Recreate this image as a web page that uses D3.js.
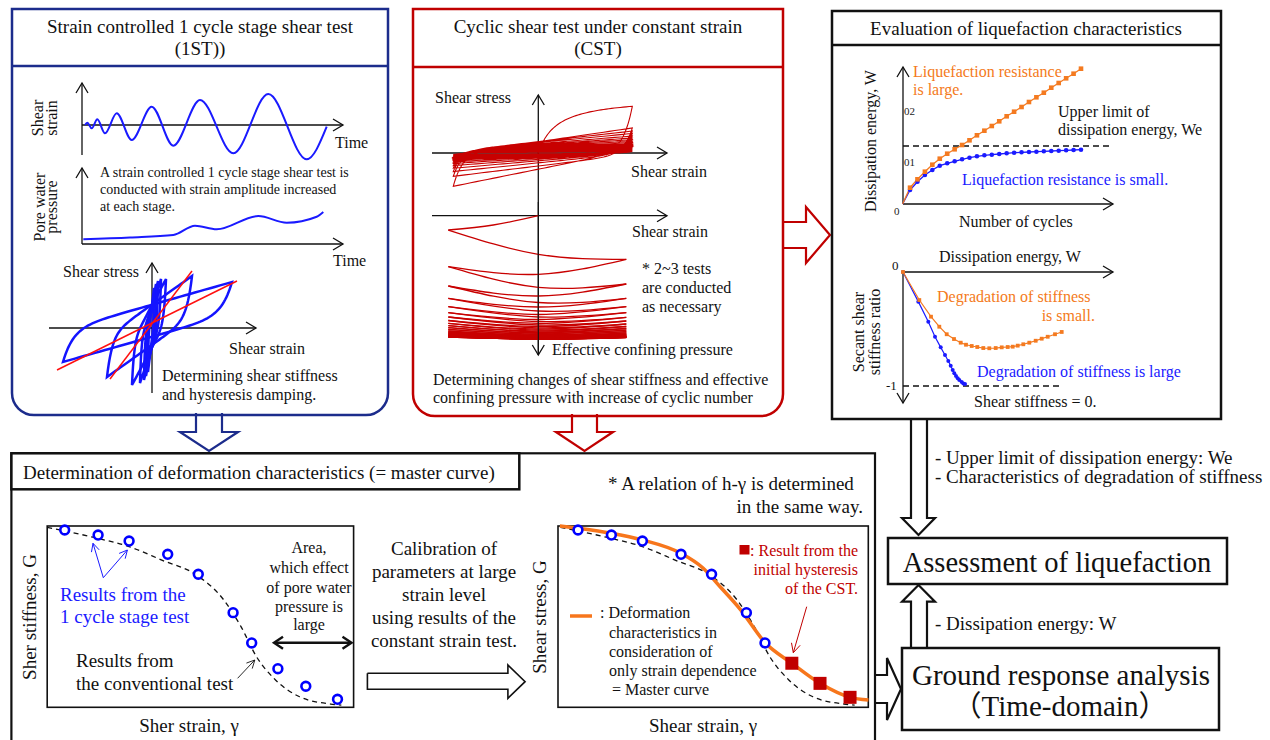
<!DOCTYPE html>
<html><head><meta charset="utf-8">
<script src="https://cdn.jsdelivr.net/npm/d3@7"></script>
<style>
body{margin:0;background:#fff}
svg{display:block}
text{font-family:"Liberation Serif","Times New Roman",Times,"Noto Sans CJK JP",serif}
</style></head>
<body><svg id="c" width="1270" height="740"></svg>
<script>
// ================= DATA =================
// 1ST: shear strain time history (extrema, arbitrary units)
const waveTime   = [3, 5.3, 9.7, 15.3, 23, 34.7, 49.7, 69.7, 91.3, 118, 151.3, 186.3, 224.7, 244.7];
const waveStrain = [0, 2.3, -3.3, 5.7, -8.3, 11.7, -15, 18.3, -20.7, 25, -28.3, 31, -34.3, -1.7];
// 1ST: pore water pressure time history
const poreTime = [1.3, 48, 91.3, 113, 134.7, 176.3, 204.7, 234.7, 241.3];
const porePWP  = [4.7, 6.5, 9, 18.3, 14.7, 28, 21.3, 27.3, 32];
// 1ST: hysteresis loops (reversal points)
const hystStrainMin = [-89, -45, -20, -12, -8, -6, -4];
const hystStrainMax = [80, 40, 14, 9, 6, 4, 2];
const hystStressMin = [-34, -49, -57, -55, -52, -48, -44];
const hystStressMax = [46, 52, 49, 49, 47, 44, 40];
// 1ST: secant stiffness lines [strain1, stress1, strain2, stress2]
const secantLines = [[-95, -42, 85, 47], [-42, -51, 40, 57]];
// CST: constant strain amplitude, peak stresses per cycle
const cstStrainMin = -85, cstStrainMax = 94;
const cstTop    = [46.7, 25, 22, 19.5, 17, 15, 13.3, 11.7, 10.3, 9, 7.8, 6.8, 5.9, 5.1, 4.4, 3.8, 3.3, 2.9, 2.5, 2.2, 2.0, 1.8, 1.6, 1.5];
const cstBottom = [33.3, 23.3, 18.5, 15.2, 12.6, 10.5, 8.8, 7.4, 6.3, 5.4, 4.7, 4.1, 3.6, 3.2, 2.9, 2.6, 2.4, 2.2, 2.0, 1.9, 1.8, 1.7, 1.6, 1.5];
// CST: effective confining pressure path (drop from initial), reversal and mid-cycle values
const pathStrainMin = -90, pathStrainMax = 88;
const pFirstMid = 9.3;
const pLeft  = [14.3, 51.0, 70.3, 82.6, 91.0, 97.0, 101.3, 104.8, 107.6, 110.0, 112.0, 113.7, 115.1, 116.3, 117.3, 118.1, 118.8, 119.4, 119.9, 120.3, 120.6, 120.9, 121.1, 121.3, 121.5];
const pRight = [43.6, 68.3, 82.6, 91.0, 97.0, 101.6, 105.3, 108.3, 110.8, 112.8, 114.5, 115.9, 117.1, 118.1, 118.9, 119.6, 120.2, 120.6, 120.9, 121.2, 121.4, 121.6, 121.7, 121.8];
const pMidLR = [38.6, 71.6, 86.8, 95.3, 101.3, 105.8, 109.3, 112.1, 114.3, 116.1, 117.6, 118.8, 119.8, 120.6, 121.3, 121.8, 122.2, 122.5, 122.7, 122.9, 123.0, 123.1, 123.2, 123.3];
const pMidRL = [58.6, 80.3, 91.3, 98.8, 103.8, 107.6, 110.8, 113.3, 115.3, 117.0, 118.3, 119.4, 120.3, 121.1, 121.7, 122.2, 122.5, 122.7, 122.9, 123.0, 123.1, 123.2, 123.3, 123.4];
// Evaluation: dissipation energy vs number of cycles
const cycles   = [1,2,3,4,5,6,7,8,9,10,11,12,13,14,15,16,17,18,19,20,21,22,23,24];
const energyLarge = [0.163,0.247,0.323,0.393,0.453,0.503,0.547,0.59,0.637,0.687,0.733,0.78,0.827,0.877,0.923,0.97,1.02,1.067,1.113,1.163,1.21,1.257,1.303,1.353];
const energySmall = [0.14,0.223,0.29,0.34,0.383,0.407,0.427,0.447,0.463,0.477,0.487,0.493,0.5,0.507,0.513,0.517,0.52,0.523,0.527,0.53,0.533,0.537,0.54,0.543];
const energyLimit = 0.58;
const energyTickLabels = ["01", "02"];
const energyTickValues = [0.42, 0.93];
// Evaluation: secant shear stiffness ratio vs dissipation energy
const degSmallE = [0,0.163,0.28,0.363,0.437,0.51,0.577,0.63,0.687,0.743,0.803,0.863,0.927,0.987,1.047,1.097,1.147,1.203,1.263,1.327,1.387,1.447,1.52,1.587];
const degSmallR = [0,-0.246,-0.392,-0.48,-0.546,-0.588,-0.62,-0.638,-0.649,-0.658,-0.667,-0.669,-0.667,-0.661,-0.658,-0.655,-0.646,-0.634,-0.62,-0.603,-0.585,-0.568,-0.546,-0.526];
const degLargeE = [0,0.153,0.253,0.32,0.377,0.42,0.453,0.477,0.497,0.513,0.53,0.547,0.563,0.587,0.603,0.62];
const degLargeR = [0,-0.26,-0.436,-0.568,-0.661,-0.728,-0.781,-0.822,-0.86,-0.889,-0.912,-0.932,-0.947,-0.965,-0.977,-0.982];
// Master curve: log-strain index u, normalized stiffness G
const oneStageU = [0.571,1.661,2.673,3.933,4.931,6.067,6.674,7.529,8.44,9.475];
const oneStageG = [0.978,0.95,0.917,0.844,0.734,0.522,0.355,0.213,0.116,0.044];
const convU = [0,1.495,2.673,3.74,4.866,5.764,6.325,6.831,7.451,8.238,9.249,9.6];
const convG = [0.993,0.938,0.886,0.812,0.73,0.592,0.445,0.279,0.151,0.058,0.018,0.012];
const masterU = [-0.02,0.58,1.64,2.67,3.93,4.65,5.21,5.86,6.68,7.55,8.47,9.45,10.05];
const masterG = [1.0,0.987,0.96,0.923,0.849,0.768,0.665,0.542,0.356,0.243,0.132,0.055,0.04];
const cstU = [7.55, 8.47, 9.45];
const cstG = [0.243, 0.132, 0.055];

// ================= STYLE =================
const ORANGE = '#f47a20', BLUE = '#1a1aff', NAVY = '#1c2c8c', RED = '#c00000', INK = '#111';
const svg = d3.select('#c');
const zip = (a, b) => a.map((v, i) => [v, b[i]]);

function T(x, y, s, o = {}) {
  const t = svg.append('text').attr('x', x).attr('y', y).text(s)
    .attr('font-size', o.size || 16).attr('fill', o.fill || INK)
    .attr('text-anchor', o.anchor || 'start');
  if (o.rot) t.attr('transform', `rotate(-90,${x},${y})`);
  if (o.family) t.attr('font-family', o.family);
  return t;
}
function L(x1, y1, x2, y2, o = {}) {
  return svg.append('line').attr('x1', x1).attr('y1', y1).attr('x2', x2).attr('y2', y2)
    .attr('stroke', o.color || INK).attr('stroke-width', o.w || 1.3)
    .attr('stroke-dasharray', o.dash || null);
}
function head(x, y, ang, o = {}) {
  const len = o.len || 10, half = o.half || 6;
  const c = Math.cos(ang), s = Math.sin(ang);
  const bx = x - len * c, by = y - len * s;
  svg.append('path').attr('d', `M${bx - half * s},${by + half * c}L${x},${y}L${bx + half * s},${by - half * c}`)
    .attr('fill', 'none').attr('stroke', o.color || INK).attr('stroke-width', o.w || 1.3);
}
function arrow(x1, y1, x2, y2, o = {}) {
  L(x1, y1, x2, y2, o);
  head(x2, y2, Math.atan2(y2 - y1, x2 - x1), o);
}
function poly(pts, o = {}) {
  svg.append('path').attr('d', d3.line()(pts)).attr('fill', o.fill || '#fff')
    .attr('stroke', o.color || INK).attr('stroke-width', o.w || 2.2).attr('stroke-linejoin', 'miter');
}
const expLin = (a, b) => u => a * u + (1 - a) * (1 - Math.exp(-u / b)) / (1 - Math.exp(-1 / b));
const hyper = k => u => u * (1 + k) / (u + k);
function branch(p0, p1, f, n = 60) {
  return d3.range(n + 1).map(i => { const u = Math.pow(i / n, 2);
    return [p0[0] + (p1[0] - p0[0]) * u, p0[1] + (p1[1] - p0[1]) * f(u)]; });
}

// ================= BLOCK ARROWS (under panels) =================
poly([[196, 413], [196, 432], [180, 432], [209, 451], [238, 432], [222, 432], [222, 413]], {color: NAVY});
poly([[572, 414], [572, 432], [556, 432], [584.5, 451], [613, 432], [597, 432], [597, 414]], {color: RED});
poly([[783, 222], [806, 222], [806, 207], [830, 235], [806, 263], [806, 248], [783, 248]], {color: RED});
poly([[911, 419], [911, 518], [902, 518], [918.5, 535], [935, 518], [927, 518], [927, 419]]);
poly([[911, 648], [911, 601.7], [902, 601.7], [918.5, 585], [935, 601.7], [927, 601.7], [927, 648]]);
poly([[875, 675], [887, 675], [887, 658], [901, 689], [887, 720], [887, 703], [875, 703]]);
poly([[367.4, 673.3], [507.9, 673.3], [507.9, 665], [525.1, 681.7], [507.9, 698.3], [507.9, 689.3], [367.4, 689.3], [367.4, 673.3]], {w: 1.6});

// ================= PANELS =================
svg.append('path').attr('d', 'M12,9H388V393A22,22 0 0 1 366,415H34A22,22 0 0 1 12,393Z')
  .attr('fill', 'none').attr('stroke', NAVY).attr('stroke-width', 2.5);
L(12, 66, 388, 66, {color: NAVY, w: 2.5});
svg.append('path').attr('d', 'M413,9H783V394A22,22 0 0 1 761,416H435A22,22 0 0 1 413,394Z')
  .attr('fill', 'none').attr('stroke', RED).attr('stroke-width', 2.5);
L(413, 67, 783, 67, {color: RED, w: 2.5});
svg.append('rect').attr('x', 832).attr('y', 11).attr('width', 389).attr('height', 408)
  .attr('fill', 'none').attr('stroke', INK).attr('stroke-width', 2.5);
L(832, 45, 1221, 45, {w: 2.5});
svg.append('rect').attr('x', 11.4).attr('y', 453.3).attr('width', 863.6).attr('height', 320)
  .attr('fill', 'none').attr('stroke', INK).attr('stroke-width', 2.2);
svg.append('rect').attr('x', 11.4).attr('y', 453.3).attr('width', 507.9).attr('height', 36)
  .attr('fill', '#fff').attr('stroke', INK).attr('stroke-width', 2.5);
svg.append('rect').attr('x', 888).attr('y', 538).attr('width', 339).attr('height', 46)
  .attr('fill', '#fff').attr('stroke', INK).attr('stroke-width', 2.5);
svg.append('rect').attr('x', 902).attr('y', 648).attr('width', 317).attr('height', 82)
  .attr('fill', '#fff').attr('stroke', INK).attr('stroke-width', 2.5);

// ================= TITLES =================
T(200, 33, 'Strain controlled 1 cycle stage shear test', {size: 19, anchor: 'middle'});
T(200, 55, '(1ST))', {size: 19, anchor: 'middle'});
T(598, 33, 'Cyclic shear test under constant strain', {size: 19, anchor: 'middle'});
T(598, 55, '(CST)', {size: 19, anchor: 'middle'});
T(1026, 35, 'Evaluation of liquefaction characteristics', {size: 19, anchor: 'middle'});
T(23, 479, 'Determination of deformation characteristics (= master curve)', {size: 19});

// ================= 1ST: strain & pore pressure =================
const xT = d3.scaleLinear().domain([0, 262]).range([82, 344]);
const yS = d3.scaleLinear().domain([-40, 40]).range([165, 85]);
const yPW = d3.scaleLinear().domain([0, 76]).range([244, 168]);
L(82, 155, 82, 83); head(82, 83, -Math.PI / 2);
arrow(82, 125, 343, 125);
svg.append('path').attr('d', d3.line().x(d => xT(d[0])).y(d => yS(d[1])).curve(d3.curveMonotoneX)(zip(waveTime, waveStrain)))
  .attr('fill', 'none').attr('stroke', BLUE).attr('stroke-width', 2);
T(43, 118, 'Shear', {rot: true, anchor: 'middle'});
T(57, 118, 'strain', {rot: true, anchor: 'middle'});
T(335, 148, 'Time');

L(82, 244, 82, 168); head(82, 168, -Math.PI / 2);
arrow(82, 244, 343, 244);
svg.append('path').attr('d', d3.line().x(d => xT(d[0])).y(d => yPW(d[1])).curve(d3.curveMonotoneX)(zip(poreTime, porePWP)))
  .attr('fill', 'none').attr('stroke', BLUE).attr('stroke-width', 2);
T(45, 207, 'Pore water', {rot: true, anchor: 'middle'});
T(57, 207, 'pressure', {rot: true, anchor: 'middle'});
T(100, 177, 'A strain controlled 1 cycle stage shear test is', {size: 14});
T(100, 194, 'conducted with strain amplitude increased', {size: 14});
T(100, 211, 'at each stage.', {size: 14});
T(333, 266, 'Time');

// ================= 1ST: hysteresis =================
const xH = d3.scaleLinear().domain([-100, 100]).range([52, 252]);
const yH = d3.scaleLinear().domain([-60, 60]).range([388, 268]);
L(152, 393, 152, 263); head(152, 263, -Math.PI / 2);
arrow(49, 328, 256, 328);
const hLine = d3.line().x(d => xH(d[0])).y(d => yH(d[1]));
const fH = expLin(0.6, 0.06);
hystStrainMin.forEach((mn, i) => {
  const a = [mn, hystStressMin[i]], b = [hystStrainMax[i], hystStressMax[i]];
  const pts = branch(a, b, fH).concat(branch(b, a, fH));
  svg.append('path').attr('d', hLine(pts) + 'Z').attr('fill', 'none').attr('stroke', '#1414ff').attr('stroke-width', 2.5);
});
secantLines.forEach(s => L(xH(s[0]), yH(s[1]), xH(s[2]), yH(s[3]), {color: '#ff1010', w: 1.5}));
T(63, 277, 'Shear stress');
T(229, 354, 'Shear strain');
T(162, 381, 'Determining shear stiffness');
T(162, 400, 'and hysteresis damping.');

// ================= CST =================
const xC = d3.scaleLinear().domain([-100, 100]).range([438.3, 638.3]);
const yC = d3.scaleLinear().domain([-50, 50]).range([203, 103]);
const yPp = d3.scaleLinear().domain([0, 140]).range([215.7, 355.7]);
L(538.3, 202, 538.3, 95); head(538.3, 95, -Math.PI / 2);
arrow(432, 153, 667, 153);
const fC = expLin(0.45, 0.05);
let cpts = branch([0, 0], [cstStrainMax, cstTop[0]], hyper(0.2));
cstTop.forEach((t, i) => {
  cpts = cpts.concat(branch([cstStrainMax, t], [cstStrainMin, -cstBottom[i]], fC));
  if (i + 1 < cstTop.length) cpts = cpts.concat(branch([cstStrainMin, -cstBottom[i]], [cstStrainMax, cstTop[i + 1]], fC));
});
svg.append('path').attr('d', d3.line().x(d => xC(d[0])).y(d => yC(d[1]))(cpts))
  .attr('fill', 'none').attr('stroke', '#c80000').attr('stroke-width', 1.1);
T(435, 103, 'Shear stress');
T(631, 177, 'Shear strain');

L(538.3, 202, 538.3, 355); head(538.3, 355, Math.PI / 2);
arrow(432, 215.7, 667, 215.7);
const pLine = d3.line().x(d => xC(d[0])).y(d => yPp(d[1])).curve(d3.curveNatural);
const segs = [[[0, 0], [pathStrainMin / 2, pFirstMid], [pathStrainMin, pLeft[0]]]];
pRight.forEach((r, i) => {
  segs.push([[pathStrainMin, pLeft[i]], [0, pMidLR[i]], [pathStrainMax, r]]);
  if (i + 1 < pLeft.length) segs.push([[pathStrainMax, r], [0, pMidRL[i]], [pathStrainMin, pLeft[i + 1]]]);
});
segs.forEach(s => svg.append('path').attr('d', pLine(s)).attr('fill', 'none').attr('stroke', '#c80000').attr('stroke-width', 1.3));
L(538.3, 202, 538.3, 355, {w: 1.1});
T(632, 237, 'Shear strain');
T(642, 274, '* 2~3 tests');
T(642, 293, 'are conducted');
T(642, 312, 'as necessary');
T(552, 355, 'Effective confining pressure');
T(433, 385, 'Determining changes of shear stiffness and effective');
T(433, 403, 'confining pressure with increase of cyclic number');

// ================= EVALUATION: dissipation =================
const xN = d3.scaleLinear().domain([0, 24]).range([902.6, 1081]);
const yW = d3.scaleLinear().domain([0, 1.37]).range([204, 67]);
L(903, 204, 903, 67); head(903, 67, -Math.PI / 2);
arrow(903, 204, 1113, 204);
L(903, yW(energyLimit), 1113, yW(energyLimit), {dash: '6,4', w: 1.3});
const eLine = d3.line().x(d => xN(d[0])).y(d => yW(d[1]));
svg.append('path').attr('d', eLine([[0, 0]].concat(zip(cycles, energySmall)))).attr('fill', 'none').attr('stroke', BLUE).attr('stroke-width', 1.3);
svg.append('path').attr('d', eLine([[0, 0]].concat(zip(cycles, energyLarge)))).attr('fill', 'none').attr('stroke', ORANGE).attr('stroke-width', 1.3);
svg.selectAll('.bdot').data(zip(cycles, energySmall)).enter().append('circle')
  .attr('cx', d => xN(d[0])).attr('cy', d => yW(d[1])).attr('r', 2.3).attr('fill', BLUE);
svg.selectAll('.osq').data(zip(cycles, energyLarge)).enter().append('rect')
  .attr('x', d => xN(d[0]) - 2.3).attr('y', d => yW(d[1]) - 2.3).attr('width', 4.6).attr('height', 4.6).attr('fill', ORANGE);
energyTickLabels.forEach((s, i) => T(904, yW(energyTickValues[i]) + 4, s, {size: 11, family: '"Liberation Sans",Arial,sans-serif', fill: '#222'}));
T(894, 215, '0', {size: 11, family: '"Liberation Sans",Arial,sans-serif', fill: '#222'});
T(913, 77, 'Liquefaction resistance', {fill: ORANGE});
T(913, 95, 'is large.', {fill: ORANGE});
T(1058, 117, 'Upper limit of');
T(1058, 135, 'dissipation energy, We');
T(962, 185, 'Liquefaction resistance is small.', {fill: BLUE});
T(959, 227, 'Number of cycles');
T(876, 141, 'Dissipation energy, W', {rot: true, anchor: 'middle'});

// ================= EVALUATION: stiffness =================
const xE = d3.scaleLinear().domain([0, 2.1]).range([903, 1113]);
const yR = d3.scaleLinear().domain([-1, 0]).range([386, 272]);
arrow(903, 272, 1113, 272);
L(903, 272, 903, 403); head(903, 403, Math.PI / 2);
L(903, yR(-1), 1063, yR(-1), {dash: '6,4', w: 1.3});
const rLine = d3.line().x(d => xE(d[0])).y(d => yR(d[1]));
svg.append('path').attr('d', rLine(zip(degLargeE, degLargeR))).attr('fill', 'none').attr('stroke', BLUE).attr('stroke-width', 1.2);
svg.append('path').attr('d', rLine(zip(degSmallE, degSmallR))).attr('fill', 'none').attr('stroke', ORANGE).attr('stroke-width', 1.2);
svg.selectAll('.bdot2').data(zip(degLargeE, degLargeR)).enter().append('circle')
  .attr('cx', d => xE(d[0])).attr('cy', d => yR(d[1])).attr('r', 2).attr('fill', BLUE);
svg.selectAll('.osq2').data(zip(degSmallE, degSmallR)).enter().append('rect')
  .attr('x', d => xE(d[0]) - 1.9).attr('y', d => yR(d[1]) - 1.9).attr('width', 3.8).attr('height', 3.8).attr('fill', ORANGE);
T(892, 270, '0', {size: 13});
T(886, 390, '-1', {size: 13});
T(939, 262, 'Dissipation energy, W');
T(864, 332, 'Secant shear', {rot: true, anchor: 'middle'});
T(880, 332, 'stiffness ratio', {rot: true, anchor: 'middle'});
T(937, 302, 'Degradation of stiffness', {fill: ORANGE});
T(1095, 321, 'is small.', {fill: ORANGE, anchor: 'end'});
T(977, 377, 'Degradation of stiffness is large', {fill: BLUE});
T(974, 407, 'Shear stiffness = 0.');

// ================= RIGHT COLUMN =================
T(935, 464, '- Upper limit of dissipation energy: We', {size: 19});
T(935, 483, '- Characteristics of degradation of stiffness', {size: 19});
T(1057, 572, 'Assessment of liquefaction', {size: 28.5, anchor: 'middle'});
T(935, 630, '- Dissipation energy: W', {size: 19});
T(1061, 685, 'Ground response analysis', {size: 29, anchor: 'middle'});
T(1060, 716, '（Time-domain）', {size: 29, anchor: 'middle'});

// ================= MASTER CURVE CHARTS =================
const xL = d3.scaleLinear().domain([0, 10]).range([47.2, 353.6]);
const xR = d3.scaleLinear().domain([0, 10]).range([560.5, 866.9]);
const yG = d3.scaleLinear().domain([0, 1]).range([707.3, 526]);
svg.append('rect').attr('x', 47.2).attr('y', 526).attr('width', 306.4).attr('height', 181.3).attr('fill', 'none').attr('stroke', INK).attr('stroke-width', 1.6);
svg.append('rect').attr('x', 558).attr('y', 526).attr('width', 310.3).attr('height', 181.3).attr('fill', 'none').attr('stroke', INK).attr('stroke-width', 1.6);

// left chart
svg.append('path').attr('d', d3.line().x(d => xL(d[0])).y(d => yG(d[1])).curve(d3.curveMonotoneX)(zip(convU, convG)))
  .attr('fill', 'none').attr('stroke', INK).attr('stroke-width', 1.3).attr('stroke-dasharray', '5,4');
svg.selectAll('.c1').data(zip(oneStageU, oneStageG)).enter().append('circle')
  .attr('cx', d => xL(d[0])).attr('cy', d => yG(d[1])).attr('r', 4.4).attr('fill', '#fff').attr('stroke', '#0000ff').attr('stroke-width', 2.6);
arrow(103.3, 577.7, 93, 543.3, {color: BLUE, w: 1, len: 8, half: 4});
arrow(103.3, 577.7, 127.4, 550, {color: BLUE, w: 1, len: 8, half: 4});
arrow(237.6, 678.3, 254.8, 660, {w: 0.9, len: 8, half: 4});
L(276, 642.7, 351, 642.7, {w: 2.4});
head(351.5, 642.7, 0, {w: 2.4, len: 9, half: 6});
head(274, 642.7, Math.PI, {w: 2.4, len: 9, half: 6});
T(36, 617, 'Sher stiffness, G', {size: 19, rot: true, anchor: 'middle'});
T(189, 732, 'Sher strain, γ', {size: 19, anchor: 'middle'});
T(60, 601, 'Results from the', {size: 19, fill: BLUE});
T(60, 623, '1 cycle stage test', {size: 19, fill: BLUE});
T(76, 667, 'Results from', {size: 19});
T(76, 690, 'the conventional test', {size: 19});
['Area,', 'which effect', 'of pore water', 'pressure is', 'large'].forEach((s, i) =>
  T(309, [553, 573, 593, 612, 630][i], s, {anchor: 'middle'}));
['Calibration of', 'parameters at large', 'strain level', 'using results of the', 'constant strain test.'].forEach((s, i) =>
  T(444, [555, 578, 601, 624, 647][i], s, {size: 19, anchor: 'middle'}));

// right chart
svg.append('path').attr('d', d3.line().x(d => xR(d[0])).y(d => yG(d[1])).curve(d3.curveMonotoneX)(zip(convU, convG)))
  .attr('fill', 'none').attr('stroke', INK).attr('stroke-width', 1.3).attr('stroke-dasharray', '5,4');
svg.append('path').attr('d', d3.line().x(d => xR(d[0])).y(d => yG(d[1])).curve(d3.curveMonotoneX)(zip(masterU, masterG)))
  .attr('fill', 'none').attr('stroke', '#f7761c').attr('stroke-width', 3.5);
svg.selectAll('.c2').data(zip(oneStageU, oneStageG).slice(0, 7)).enter().append('circle')
  .attr('cx', d => xR(d[0])).attr('cy', d => yG(d[1])).attr('r', 4.4).attr('fill', '#fff').attr('stroke', '#0000ff').attr('stroke-width', 2.6);
svg.selectAll('.sq').data(zip(cstU, cstG)).enter().append('rect')
  .attr('x', d => xR(d[0]) - 6.5).attr('y', d => yG(d[1]) - 6.5).attr('width', 13).attr('height', 13).attr('fill', RED);
L(570, 616, 592, 616, {color: '#f7761c', w: 3.5});
T(600, 618, ': Deformation');
T(609, 638, 'characteristics in');
T(609, 657, 'consideration of');
T(609, 676, 'only strain dependence');
T(612, 695, '= Master curve');
svg.append('rect').attr('x', 739.5).attr('y', 545).attr('width', 10).attr('height', 9.5).attr('fill', RED);
T(858, 556, ': Result from the', {fill: RED, anchor: 'end'});
T(858, 575, 'initial hysteresis', {fill: RED, anchor: 'end'});
T(858, 594, 'of the CST.', {fill: RED, anchor: 'end'});
arrow(806.7, 606.7, 793.3, 652.7, {color: RED, w: 1, len: 9, half: 4.5});
T(608, 490, '* A relation of h-γ is determined', {size: 19});
T(863, 513, 'in the same way.', {size: 19, anchor: 'end'});
T(546, 617, 'Shear stress, G', {size: 19, rot: true, anchor: 'middle'});
T(703, 732, 'Shear strain, γ', {size: 19, anchor: 'middle'});
</script></body></html>
